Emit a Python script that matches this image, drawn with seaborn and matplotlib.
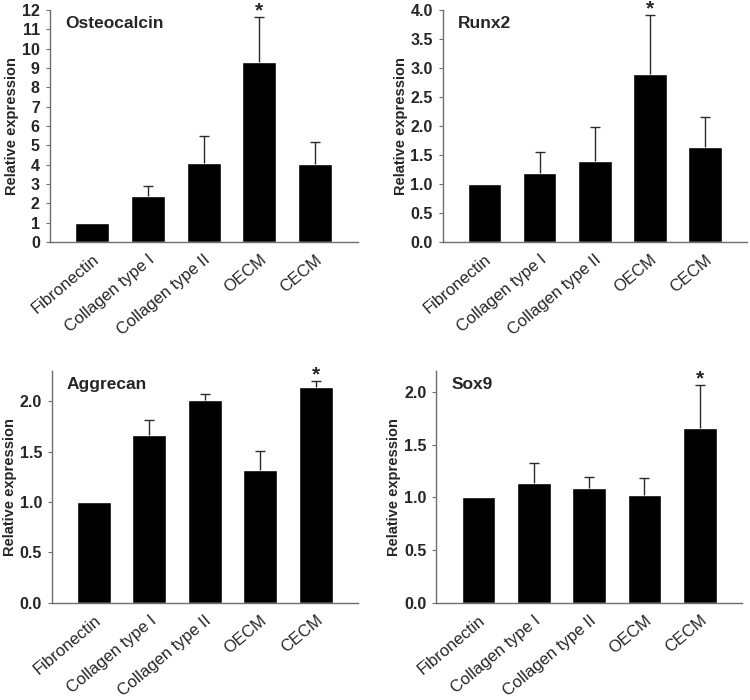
import numpy as np
import pandas as pd
import matplotlib
matplotlib.use("Agg")
import matplotlib.pyplot as plt
import seaborn as sns

categories = ["Fibronectin", "Collagen type I", "Collagen type II", "OECM", "CECM"]

osteocalcin_mean = [1.0, 2.37, 4.11, 9.32, 4.04]
osteocalcin_err = [0.0, 0.52, 1.39, 2.30, 1.13]

runx2_mean = [1.0, 1.19, 1.40, 2.90, 1.63]
runx2_err = [0.0, 0.36, 0.59, 1.01, 0.53]

aggrecan_mean = [1.0, 1.66, 2.01, 1.32, 2.145]
aggrecan_err = [0.0, 0.15, 0.066, 0.19, 0.053]

sox9_mean = [1.0, 1.134, 1.09, 1.02, 1.663]
sox9_err = [0.0, 0.19, 0.10, 0.165, 0.40]

panels = [
    ("Osteocalcin", osteocalcin_mean, osteocalcin_err, 12, np.arange(0, 13, 1), "%d", 3),
    ("Runx2", runx2_mean, runx2_err, 4.0, np.arange(0, 4.01, 0.5), "%.1f", 3),
    ("Aggrecan", aggrecan_mean, aggrecan_err, 2.3, np.arange(0, 2.01, 0.5), "%.1f", 4),
    ("Sox9", sox9_mean, sox9_err, 2.2, np.arange(0, 2.01, 0.5), "%.1f", 4),
]

sns.set_style("ticks")
plt.rcParams["font.family"] = ["Liberation Sans", "DejaVu Sans"]

fig = plt.figure(figsize=(7.5, 7), dpi=100)
rects = [
    [0.066, 0.654, 0.411, 0.332],
    [0.590, 0.654, 0.406, 0.332],
    [0.069, 0.139, 0.408, 0.331],
    [0.582, 0.139, 0.407, 0.331],
]
axis_color = "#6e6e6e"
err_color = "#2b2b2b"

for rect, (name, mean, err, ymax, ticks, fmt, star_idx) in zip(rects, panels):
    ax = fig.add_axes(rect)
    df = pd.DataFrame({"group": categories, "value": mean, "err": err})
    sns.barplot(data=df, x="group", y="value", ax=ax, color="black",
                width=0.61, saturation=1, errorbar=None)
    xs = np.arange(len(categories))
    # upper error bars only
    e = df[df["err"] > 0]
    ex = xs[df["err"] > 0]
    ax.vlines(ex, e["value"], e["value"] + e["err"], color=err_color, lw=1.0, zorder=3)
    ax.hlines(e["value"] + e["err"], ex - 0.09, ex + 0.09, color=err_color, lw=1.0, zorder=3)

    top = df["value"][star_idx] + df["err"][star_idx]
    ax.annotate("*", (star_idx, top), xytext=(0, 0.6), textcoords="offset points",
                ha="center", va="baseline", fontsize=15, fontweight="bold",
                annotation_clip=False)
    ax.text(0.05, 0.975, name, transform=ax.transAxes, ha="left", va="top",
            fontsize=12.5, fontweight="bold")
    ax.set_xlim(-0.76, 4.76)
    ax.set_ylim(0, ymax)
    ax.set_yticks(ticks)
    ax.set_yticklabels([fmt % t for t in ticks], fontsize=11.5, fontweight="bold")
    ax.set_xticks(xs)
    ax.set_xticklabels(categories, rotation=40, ha="right", rotation_mode="anchor",
                       fontsize=12)
    ax.tick_params(axis="x", length=0, pad=7)
    ax.tick_params(axis="y", length=3, width=0.8, color=axis_color, pad=4)
    ax.set_xlabel("")
    ax.set_ylabel("Relative expression", fontsize=10.5, fontweight="bold", labelpad=2)
    sns.despine(ax=ax)
    for s in ["left", "bottom"]:
        ax.spines[s].set_color(axis_color)
        ax.spines[s].set_linewidth(1.0)

fig.savefig("out.png", dpi=100)
